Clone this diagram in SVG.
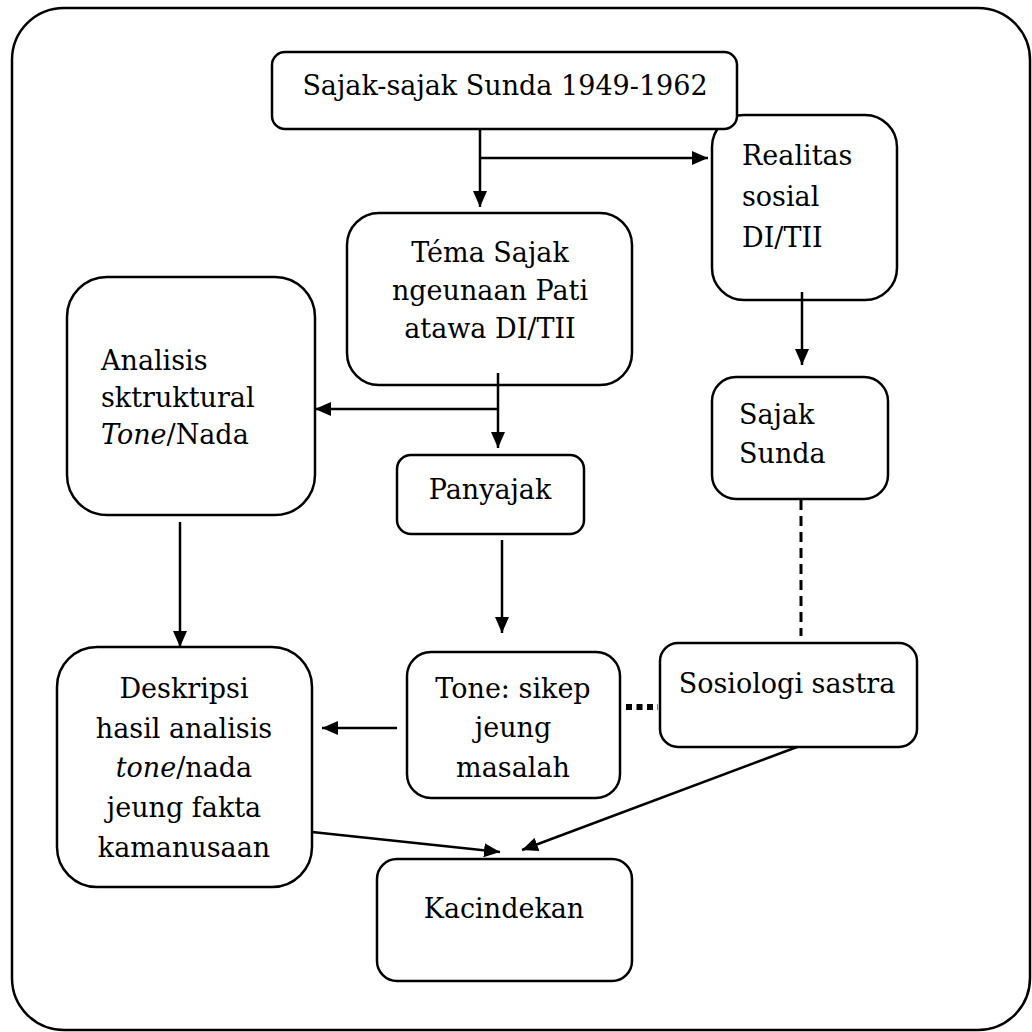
<svg xmlns="http://www.w3.org/2000/svg" width="1032" height="1032" viewBox="0 0 1032 1032">
<style>
.box{fill:#fff;stroke:#000;stroke-width:2.5}
text{fill:#000;font-family:'DejaVu Serif',serif;font-size:27px}
.c{text-anchor:middle}
.ln{stroke:#000;stroke-width:2.5;fill:none}
</style>
<defs>
<marker id="ah" markerUnits="userSpaceOnUse" markerWidth="16" markerHeight="14" refX="16" refY="7" orient="auto">
<path d="M0,0 L16,7 L0,14 Z" fill="#000"/>
</marker>
</defs>
<rect x="12" y="8" width="1018" height="1022" rx="52" fill="#fff" stroke="#000" stroke-width="2.5"/>

<g id="realitas">
<rect class="box" x="712" y="115" width="185" height="185" rx="32"/>
<text x="742" y="165">Realitas</text>
<text x="742" y="206">sosial</text>
<text x="742" y="247">DI/TII</text>
</g>
<g id="sajak-sajak">
<rect class="box" x="272" y="52" width="465" height="77" rx="13"/>
<text class="c" x="505" y="95">Sajak-sajak Sunda 1949-1962</text>
</g>
<g id="tema">
<rect class="box" x="347" y="213" width="285" height="172" rx="32"/>
<text class="c" x="490" y="262">Téma Sajak</text>
<text class="c" x="490" y="300">ngeunaan Pati</text>
<text class="c" x="490" y="338">atawa DI/TII</text>
</g>
<g id="analisis">
<rect class="box" x="67" y="277" width="248" height="238" rx="40"/>
<text x="101" y="370">Analisis</text>
<text x="101" y="407">sktruktural</text>
<text x="101" y="444"><tspan font-style="italic">Tone</tspan>/Nada</text>
</g>
<g id="panyajak">
<rect class="box" x="397" y="455" width="187" height="79" rx="14"/>
<text class="c" x="490" y="499">Panyajak</text>
</g>
<g id="sajak-sunda">
<rect class="box" x="712" y="377" width="176" height="122" rx="24"/>
<text x="739" y="424">Sajak</text>
<text x="739" y="463">Sunda</text>
</g>
<g id="sosiologi">
<rect class="box" x="660" y="643" width="257" height="104" rx="18"/>
<text class="c" x="787" y="693">Sosiologi sastra</text>
</g>
<g id="tone">
<rect class="box" x="407" y="652" width="213" height="146" rx="24"/>
<text class="c" x="513" y="698">Tone: sikep</text>
<text class="c" x="513" y="737">jeung</text>
<text class="c" x="513" y="777">masalah</text>
</g>
<g id="deskripsi">
<rect class="box" x="57" y="647" width="255" height="240" rx="40"/>
<text class="c" x="184" y="698">Deskripsi</text>
<text class="c" x="184" y="738">hasil analisis</text>
<text class="c" x="184" y="777"><tspan font-style="italic">tone</tspan>/nada</text>
<text class="c" x="184" y="817">jeung fakta</text>
<text class="c" x="184" y="857">kamanusaan</text>
</g>
<g id="kacindekan">
<rect class="box" x="377" y="859" width="255" height="122" rx="20"/>
<text class="c" x="504" y="918">Kacindekan</text>
</g>

<g id="connectors">
<line class="ln" x1="480" y1="129" x2="480" y2="207" marker-end="url(#ah)"/>
<line class="ln" x1="480" y1="158" x2="708" y2="158" marker-end="url(#ah)"/>
<line class="ln" x1="802" y1="292" x2="802" y2="365" marker-end="url(#ah)"/>
<line class="ln" x1="498" y1="373" x2="498" y2="448" marker-end="url(#ah)"/>
<line class="ln" x1="498" y1="409" x2="315" y2="409" marker-end="url(#ah)"/>
<line class="ln" x1="502" y1="540" x2="502" y2="633" marker-end="url(#ah)"/>
<line class="ln" x1="180" y1="522" x2="180" y2="647" marker-end="url(#ah)"/>
<line class="ln" x1="397" y1="728" x2="322" y2="728" marker-end="url(#ah)"/>
<line class="ln" x1="312" y1="832" x2="500" y2="852" marker-end="url(#ah)"/>
<line class="ln" x1="797" y1="747" x2="522" y2="850" marker-end="url(#ah)"/>
<line x1="801" y1="500" x2="801" y2="636" stroke="#000" stroke-width="3" stroke-dasharray="10,6"/>
<line x1="626" y1="707" x2="658" y2="707" stroke="#000" stroke-width="6" stroke-dasharray="6,4.5"/>
</g>
</svg>
